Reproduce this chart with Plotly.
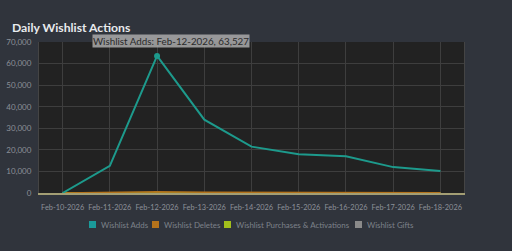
import plotly.graph_objects as go

dates = ["Feb-10-2026", "Feb-11-2026", "Feb-12-2026", "Feb-13-2026", "Feb-14-2026",
         "Feb-15-2026", "Feb-16-2026", "Feb-17-2026", "Feb-18-2026"]
adds = [0, 12600, 63527, 34000, 21500, 18000, 17000, 12000, 10200]
deletes = [0, 150, 600, 350, 250, 200, 200, 150, 150]
purchases = [0, 30, 120, 80, 60, 50, 50, 40, 40]
gifts = [0, 0, 0, 0, 0, 0, 0, 0, 0]
yticks = [0, 10000, 20000, 30000, 40000, 50000, 60000, 70000]
legend_names = ["Wishlist Adds", "Wishlist Deletes", "Wishlist Purchases & Activations", "Wishlist Gifts"]
legend_colors = ["#1a9a9a", "#b5731c", "#a3bf1c", "#8a8a8a"]

BG = "#30343c"
PLOT_BG = "#222222"
GRID = "#3e3e3e"
TICK = "#8c9098"
FONT = "Lato, Open Sans, DejaVu Sans, sans-serif"

L, R, T, B = 39, 48, 42, 58
W, H = 512, 251
PW, PH = W - L - R, H - T - B


def px(x):
    return (x - L) / PW


def py(y):
    return (H - B - y) / PH


fig = go.Figure()
fig.add_trace(go.Scatter(x=dates, y=gifts, name="Wishlist Gifts", mode="lines",
                         line=dict(color="#8a8a8a", width=1.5)))
fig.add_trace(go.Scatter(x=dates, y=purchases, name="Wishlist Purchases & Activations", mode="lines",
                         line=dict(color="#a3b81c", width=1.5)))
fig.add_trace(go.Scatter(x=dates, y=deletes, name="Wishlist Deletes", mode="lines",
                         line=dict(color="#b5731c", width=1.5)))
fig.add_trace(go.Scatter(x=dates, y=adds, name="Wishlist Adds", mode="lines",
                         line=dict(color="#1d9a8c", width=2)))
fig.add_trace(go.Scatter(x=[dates[2]], y=[adds[2]], mode="markers",
                         marker=dict(color="#1d9a8c", size=6)))

annotations = [
    dict(text="<b>Daily Wishlist Actions</b>", x=px(10), xanchor="left", y=py(28), yanchor="middle",
         xref="paper", yref="paper", showarrow=False,
         font=dict(size=12.2, color="#e8eaed", family=FONT)),
    dict(text="Total conversions", xref="paper", yref="paper", x=px(12), xanchor="left",
         y=py(-4), yanchor="middle", showarrow=False,
         font=dict(size=9, color="#9aa0a8", family=FONT)),
    dict(text="Wishlist Adds: Feb-12-2026, 63,527", xref="x", yref="y",
         x=2, y=adds[2], yshift=15, xshift=-65, xanchor="left", showarrow=False,
         font=dict(size=9.8, color="#2a2a2a", family=FONT), bgcolor="rgba(170,170,170,0.85)",
         borderpad=0),
]
shapes = []
sq_x = [89, 152, 224, 355]
for name, col, sx in zip(legend_names, legend_colors, sq_x):
    shapes.append(dict(type="rect", xref="paper", yref="paper",
                       x0=px(sx), x1=px(sx + 7), y0=py(228), y1=py(221),
                       fillcolor=col, line=dict(width=0)))
    annotations.append(dict(text=name, xref="paper", yref="paper", x=px(sx + 10), xanchor="left",
                            y=py(224.5), yanchor="middle", showarrow=False,
                            font=dict(size=7.9, color="#7d828a", family=FONT)))

fig.update_layout(
    width=W, height=H,
    paper_bgcolor=BG, plot_bgcolor=PLOT_BG,
    margin=dict(l=L, r=R, t=T, b=B),
    font=dict(family=FONT, size=8, color=TICK),
    showlegend=False,
    xaxis=dict(type="category", range=[-0.5, 8.5], showgrid=True, gridcolor=GRID,
               gridwidth=1, tickfont=dict(size=7.4, color=TICK), ticks="", tickangle=0,
               showline=True, linecolor="#a39e74", linewidth=2, zeroline=False,
               automargin=False, ticklabelstandoff=6),
    yaxis=dict(range=[0, 70000], tickvals=yticks, tickformat=",", showgrid=True,
               gridcolor=GRID, gridwidth=1, tickfont=dict(size=8, color=TICK),
               ticks="", zeroline=False, showline=True, mirror=True, linecolor="#444444",
               automargin=False, ticklabelstandoff=5),
    annotations=annotations,
    shapes=shapes,
)

fig.write_html("out.html")
